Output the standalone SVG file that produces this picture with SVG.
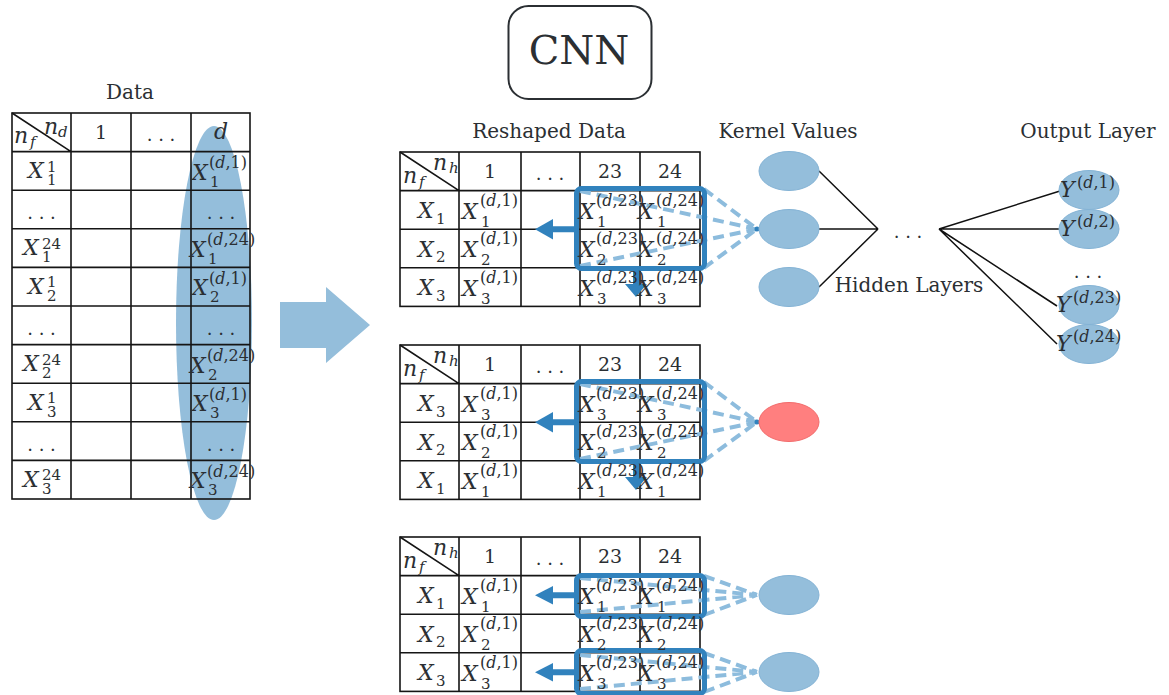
<svg xmlns="http://www.w3.org/2000/svg" width="1169" height="695" viewBox="0 0 1169 695">
<style>
.t{font-family:"DejaVu Serif","Liberation Serif",serif;fill:#2b2f33}
.lb{font-size:20px}
.hd{font-size:19px;text-anchor:middle}
.dots{font-size:18px;text-anchor:middle}
.mi{font-style:italic;font-size:22px}
.sp{font-style:normal;font-size:16px}
.sb{font-style:normal;font-size:15px}
.it{font-style:italic}
.g{fill:none;stroke:#151515;stroke-width:1.6}
.box{fill:none;stroke:#3182bd;stroke-width:5}
.arr{fill:#3182bd}
.shaft{stroke:#3182bd;stroke-width:6}
.dash{stroke:#8dbcdd;stroke-width:4;stroke-dasharray:11 6;fill:none}
.kv{fill:#94bedb;stroke:#84b3d5;stroke-width:1}
.red{fill:#ff7f7f;stroke:#f26b6b;stroke-width:1}
.conn{stroke:#111;stroke-width:1.5;fill:none}
.dot{fill:#3182bd}
</style>
<rect width="1169" height="695" fill="#fff"/>

<!-- CNN title -->
<g id="cnn">
<rect x="508.5" y="6" width="143" height="93" rx="20" fill="#fff" stroke="#2b2f33" stroke-width="2"/>
<text class="t" x="579" y="64" font-size="40" text-anchor="middle">CNN</text>
</g>

<!-- Data table -->
<g id="data-table">
<text class="t lb" x="130" y="99" text-anchor="middle">Data</text>
<ellipse cx="214" cy="323" rx="38" ry="197" fill="#94bedb"/>
<rect class="g" x="12" y="113" width="238" height="386"/>
<path class="g" d="M71 113V499M131 113V499M191 113V499M12 151.6H250M12 190.2H250M12 228.8H250M12 267.4H250M12 306H250M12 344.6H250M12 383.2H250M12 421.8H250M12 460.4H250M12 113L71 151.6"/>
<text class="t mi" x="44" y="134">n<tspan x="58" y="137" font-size="15">d</tspan></text>
<text class="t mi" x="14" y="143">n<tspan x="30" y="147" font-size="15">f</tspan></text>
<text class="t hd" x="101" y="139">1</text>
<text class="t dots" x="161" y="141">. . .</text>
<text class="t mi" x="221" y="139" text-anchor="middle">d</text>

<text class="t mi" x="28" y="178.1">X<tspan class="sb" x="47" y="171.6">1</tspan><tspan class="sb" x="47" y="185.1">1</tspan></text>
<text class="t dots" x="41.5" y="219">. . .</text>
<text class="t mi" x="23" y="255.3">X<tspan class="sb" x="42" y="248.8">24</tspan><tspan class="sb" x="42" y="262.3">1</tspan></text>
<text class="t mi" x="28" y="293.9">X<tspan class="sb" x="47" y="287.4">1</tspan><tspan class="sb" x="47" y="300.9">2</tspan></text>
<text class="t dots" x="41.5" y="335">. . .</text>
<text class="t mi" x="23" y="371.1">X<tspan class="sb" x="42" y="364.6">24</tspan><tspan class="sb" x="42" y="378.1">2</tspan></text>
<text class="t mi" x="28" y="409.7">X<tspan class="sb" x="47" y="403.2">1</tspan><tspan class="sb" x="47" y="416.7">3</tspan></text>
<text class="t dots" x="41.5" y="451">. . .</text>
<text class="t mi" x="23" y="486.9">X<tspan class="sb" x="42" y="480.4">24</tspan><tspan class="sb" x="42" y="493.9">3</tspan></text>

<text class="t mi" x="192" y="179.6">X<tspan class="sp" x="209" y="168.1">(<tspan class="it">d</tspan>,1)</tspan><tspan class="sb" x="210" y="186.6">1</tspan></text>
<text class="t dots" x="221" y="219">. . .</text>
<text class="t mi" x="190" y="256.8">X<tspan class="sp" x="207" y="245.3">(<tspan class="it">d</tspan>,24)</tspan><tspan class="sb" x="208" y="263.8">1</tspan></text>
<text class="t mi" x="192" y="295.4">X<tspan class="sp" x="209" y="283.9">(<tspan class="it">d</tspan>,1)</tspan><tspan class="sb" x="210" y="302.4">2</tspan></text>
<text class="t dots" x="221" y="335">. . .</text>
<text class="t mi" x="190" y="372.6">X<tspan class="sp" x="207" y="361.1">(<tspan class="it">d</tspan>,24)</tspan><tspan class="sb" x="208" y="379.6">2</tspan></text>
<text class="t mi" x="192" y="411.2">X<tspan class="sp" x="209" y="399.7">(<tspan class="it">d</tspan>,1)</tspan><tspan class="sb" x="210" y="418.2">3</tspan></text>
<text class="t dots" x="221" y="451">. . .</text>
<text class="t mi" x="190" y="488.4">X<tspan class="sp" x="207" y="476.9">(<tspan class="it">d</tspan>,24)</tspan><tspan class="sb" x="208" y="495.4">3</tspan></text>
</g>

<!-- big transform arrow -->
<g id="big-arrow">
<polygon points="280,302 326,302 326,287 370,325 326,363 326,348 280,348" fill="#94bedb"/>
</g>

<text class="t lb" x="549" y="138" text-anchor="middle">Reshaped Data</text>

<!-- Reshaped table 1 -->
<g id="table-top">
<rect class="g" x="400" y="152" width="300" height="154.4"/>
<path class="g" d="M459 152V306.4M521 152V306.4M580 152V306.4M640 152V306.4M400 190.6H700M400 229.2H700M400 267.8H700M400 152L459 190.6"/>
<g>
<path class="dash" d="M580 191L757 229M580 266L757 229M704 189L757 229M704 268L757 229"/>
<rect class="box" x="576.5" y="188.5" width="128" height="80" rx="5"/>
<path class="shaft" d="M577 229.2H553M636 270V284"/>
<polygon class="arr" points="553,219 535,229.2 553,239.4"/>
<polygon class="arr" points="625,284 647,284 636,297"/>
<circle class="dot" cx="757" cy="229" r="2.5"/>
</g>
<text class="t mi" x="433" y="170">n<tspan x="449" y="173" font-size="15">h</tspan></text>
<text class="t mi" x="403" y="183">n<tspan x="419" y="187" font-size="15">f</tspan></text>
<text class="t hd" x="490" y="178">1</text>
<text class="t dots" x="550" y="180">. . .</text>
<text class="t hd" x="610" y="178">23</text>
<text class="t hd" x="670" y="178">24</text>
<text class="t mi" x="418" y="218">X<tspan class="sb" x="436" y="223.6">1</tspan></text>
<text class="t mi" x="418" y="256.6">X<tspan class="sb" x="436" y="262.2">2</tspan></text>
<text class="t mi" x="418" y="295.2">X<tspan class="sb" x="436" y="300.8">3</tspan></text>
<text class="t mi" x="462" y="218.6">X<tspan class="sp" x="480" y="205.6">(<tspan class="it">d</tspan>,1)</tspan><tspan class="sb" x="481" y="226.6">1</tspan></text>
<text class="t mi" x="462" y="257.2">X<tspan class="sp" x="480" y="244.2">(<tspan class="it">d</tspan>,1)</tspan><tspan class="sb" x="481" y="265.2">2</tspan></text>
<text class="t mi" x="462" y="295.8">X<tspan class="sp" x="480" y="282.8">(<tspan class="it">d</tspan>,1)</tspan><tspan class="sb" x="481" y="303.8">3</tspan></text>
<text class="t mi" x="579" y="218.6">X<tspan class="sp" x="596" y="205.6">(<tspan class="it">d</tspan>,23)</tspan><tspan class="sb" x="597" y="226.6">1</tspan></text>
<text class="t mi" x="579" y="257.2">X<tspan class="sp" x="596" y="244.2">(<tspan class="it">d</tspan>,23)</tspan><tspan class="sb" x="597" y="265.2">2</tspan></text>
<text class="t mi" x="579" y="295.8">X<tspan class="sp" x="596" y="282.8">(<tspan class="it">d</tspan>,23)</tspan><tspan class="sb" x="597" y="303.8">3</tspan></text>
<text class="t mi" x="638" y="218.6">X<tspan class="sp" x="656" y="205.6">(<tspan class="it">d</tspan>,24)</tspan><tspan class="sb" x="657" y="226.6">1</tspan></text>
<text class="t mi" x="638" y="257.2">X<tspan class="sp" x="656" y="244.2">(<tspan class="it">d</tspan>,24)</tspan><tspan class="sb" x="657" y="265.2">2</tspan></text>
<text class="t mi" x="638" y="295.8">X<tspan class="sp" x="656" y="282.8">(<tspan class="it">d</tspan>,24)</tspan><tspan class="sb" x="657" y="303.8">3</tspan></text>
</g>

<!-- Reshaped table 2 -->
<g id="table-mid">
<rect class="g" x="400" y="345" width="300" height="154.4"/>
<path class="g" d="M459 345V499.4M521 345V499.4M580 345V499.4M640 345V499.4M400 383.6H700M400 422.2H700M400 460.8H700M400 345L459 383.6"/>
<g>
<path class="dash" d="M580 384L757 422M580 459L757 422M704 382L757 422M704 461L757 422"/>
<rect class="box" x="576.5" y="381.5" width="128" height="80" rx="5"/>
<path class="shaft" d="M577 422.2H553M636 463V477"/>
<polygon class="arr" points="553,412 535,422.2 553,432.4"/>
<polygon class="arr" points="625,477 647,477 636,490"/>
<circle class="dot" cx="757" cy="422" r="2.5"/>
</g>
<text class="t mi" x="433" y="363">n<tspan x="449" y="366" font-size="15">h</tspan></text>
<text class="t mi" x="403" y="376">n<tspan x="419" y="380" font-size="15">f</tspan></text>
<text class="t hd" x="490" y="371">1</text>
<text class="t dots" x="550" y="373">. . .</text>
<text class="t hd" x="610" y="371">23</text>
<text class="t hd" x="670" y="371">24</text>
<text class="t mi" x="418" y="411">X<tspan class="sb" x="436" y="416.6">3</tspan></text>
<text class="t mi" x="418" y="449.6">X<tspan class="sb" x="436" y="455.2">2</tspan></text>
<text class="t mi" x="418" y="488.2">X<tspan class="sb" x="436" y="493.8">1</tspan></text>
<text class="t mi" x="462" y="411.6">X<tspan class="sp" x="480" y="398.6">(<tspan class="it">d</tspan>,1)</tspan><tspan class="sb" x="481" y="419.6">3</tspan></text>
<text class="t mi" x="462" y="450.2">X<tspan class="sp" x="480" y="437.2">(<tspan class="it">d</tspan>,1)</tspan><tspan class="sb" x="481" y="458.2">2</tspan></text>
<text class="t mi" x="462" y="488.8">X<tspan class="sp" x="480" y="475.8">(<tspan class="it">d</tspan>,1)</tspan><tspan class="sb" x="481" y="496.8">1</tspan></text>
<text class="t mi" x="579" y="411.6">X<tspan class="sp" x="596" y="398.6">(<tspan class="it">d</tspan>,23)</tspan><tspan class="sb" x="597" y="419.6">3</tspan></text>
<text class="t mi" x="579" y="450.2">X<tspan class="sp" x="596" y="437.2">(<tspan class="it">d</tspan>,23)</tspan><tspan class="sb" x="597" y="458.2">2</tspan></text>
<text class="t mi" x="579" y="488.8">X<tspan class="sp" x="596" y="475.8">(<tspan class="it">d</tspan>,23)</tspan><tspan class="sb" x="597" y="496.8">1</tspan></text>
<text class="t mi" x="638" y="411.6">X<tspan class="sp" x="656" y="398.6">(<tspan class="it">d</tspan>,24)</tspan><tspan class="sb" x="657" y="419.6">3</tspan></text>
<text class="t mi" x="638" y="450.2">X<tspan class="sp" x="656" y="437.2">(<tspan class="it">d</tspan>,24)</tspan><tspan class="sb" x="657" y="458.2">2</tspan></text>
<text class="t mi" x="638" y="488.8">X<tspan class="sp" x="656" y="475.8">(<tspan class="it">d</tspan>,24)</tspan><tspan class="sb" x="657" y="496.8">1</tspan></text>
</g>

<!-- Reshaped table 3 -->
<g id="table-bot">
<rect class="g" x="400" y="537" width="300" height="154.4"/>
<path class="g" d="M459 537V691.4M521 537V691.4M580 537V691.4M640 537V691.4M400 575.6H700M400 614.2H700M400 652.8H700M400 537L459 575.6"/>
<g>
<path class="dash" d="M580 578L757 595M580 612L757 595M704 576L757 595M704 615L757 595"/>
<path class="dash" d="M580 655L757 672M580 689L757 672M704 653L757 672M704 692L757 672"/>
<rect class="box" x="576.5" y="575.5" width="128" height="41" rx="5"/>
<rect class="box" x="576.5" y="650.5" width="128" height="43" rx="5"/>
<path class="shaft" d="M577 595.2H553M577 672.2H553"/>
<polygon class="arr" points="553,586 535,595.2 553,604.4"/>
<polygon class="arr" points="553,663 535,672.2 553,681.4"/>
</g>
<text class="t mi" x="433" y="555">n<tspan x="449" y="558" font-size="15">h</tspan></text>
<text class="t mi" x="403" y="568">n<tspan x="419" y="572" font-size="15">f</tspan></text>
<text class="t hd" x="490" y="563">1</text>
<text class="t dots" x="550" y="565">. . .</text>
<text class="t hd" x="610" y="563">23</text>
<text class="t hd" x="670" y="563">24</text>
<text class="t mi" x="418" y="603">X<tspan class="sb" x="436" y="608.6">1</tspan></text>
<text class="t mi" x="418" y="641.6">X<tspan class="sb" x="436" y="647.2">2</tspan></text>
<text class="t mi" x="418" y="680.2">X<tspan class="sb" x="436" y="685.8">3</tspan></text>
<text class="t mi" x="462" y="603.6">X<tspan class="sp" x="480" y="590.6">(<tspan class="it">d</tspan>,1)</tspan><tspan class="sb" x="481" y="611.6">1</tspan></text>
<text class="t mi" x="462" y="642.2">X<tspan class="sp" x="480" y="629.2">(<tspan class="it">d</tspan>,1)</tspan><tspan class="sb" x="481" y="650.2">2</tspan></text>
<text class="t mi" x="462" y="680.8">X<tspan class="sp" x="480" y="667.8">(<tspan class="it">d</tspan>,1)</tspan><tspan class="sb" x="481" y="688.8">3</tspan></text>
<text class="t mi" x="579" y="603.6">X<tspan class="sp" x="596" y="590.6">(<tspan class="it">d</tspan>,23)</tspan><tspan class="sb" x="597" y="611.6">1</tspan></text>
<text class="t mi" x="579" y="642.2">X<tspan class="sp" x="596" y="629.2">(<tspan class="it">d</tspan>,23)</tspan><tspan class="sb" x="597" y="650.2">2</tspan></text>
<text class="t mi" x="579" y="680.8">X<tspan class="sp" x="596" y="667.8">(<tspan class="it">d</tspan>,23)</tspan><tspan class="sb" x="597" y="688.8">3</tspan></text>
<text class="t mi" x="638" y="603.6">X<tspan class="sp" x="656" y="590.6">(<tspan class="it">d</tspan>,24)</tspan><tspan class="sb" x="657" y="611.6">1</tspan></text>
<text class="t mi" x="638" y="642.2">X<tspan class="sp" x="656" y="629.2">(<tspan class="it">d</tspan>,24)</tspan><tspan class="sb" x="657" y="650.2">2</tspan></text>
<text class="t mi" x="638" y="680.8">X<tspan class="sp" x="656" y="667.8">(<tspan class="it">d</tspan>,24)</tspan><tspan class="sb" x="657" y="688.8">3</tspan></text>
</g>

<!-- connectors -->
<g id="connectors">
<path class="conn" d="M819 171L878 229M819 229H878M819 287L878 229"/>
<path class="conn" d="M939 229L1060 191M939 229H1060M939 229L1057 306M939 229L1057 344"/>
</g>

<!-- kernel values -->
<g id="kernel-values">
<text class="t lb" x="788" y="138" text-anchor="middle">Kernel Values</text>
<ellipse class="kv" cx="789" cy="171" rx="30" ry="19.5"/>
<ellipse class="kv" cx="789" cy="229" rx="30" ry="19.5"/>
<ellipse class="kv" cx="789" cy="287" rx="30" ry="19.5"/>
</g>
<g id="kernel-red"><ellipse class="red" cx="789" cy="422" rx="30" ry="19.5"/></g>
<g id="kernel-b1"><ellipse class="kv" cx="789" cy="595" rx="30" ry="19.5"/></g>
<g id="kernel-b2"><ellipse class="kv" cx="789" cy="672" rx="30" ry="19.5"/></g>

<!-- hidden layers -->
<g id="hidden-layers">
<text class="t dots" x="908" y="238">. . .</text>
<text class="t lb" x="909" y="292" text-anchor="middle">Hidden Layers</text>
</g>

<!-- output layer -->
<g id="output-layer">
<text class="t lb" x="1088" y="138" text-anchor="middle">Output Layer</text>
<ellipse class="kv" cx="1089" cy="190" rx="30" ry="19.5"/>
<ellipse class="kv" cx="1089" cy="229" rx="30" ry="19.5"/>
<ellipse class="kv" cx="1089" cy="305" rx="30" ry="19.5"/>
<ellipse class="kv" cx="1089" cy="344" rx="30" ry="19.5"/>
<text class="t mi" x="1060" y="197">Y<tspan class="sp" x="1077" y="188">(<tspan class="it">d</tspan>,1)</tspan></text>
<text class="t mi" x="1060" y="236">Y<tspan class="sp" x="1077" y="227">(<tspan class="it">d</tspan>,2)</tspan></text>
<text class="t dots" x="1088" y="278">. . .</text>
<text class="t mi" x="1056" y="312">Y<tspan class="sp" x="1073" y="303">(<tspan class="it">d</tspan>,23)</tspan></text>
<text class="t mi" x="1056" y="351">Y<tspan class="sp" x="1073" y="342">(<tspan class="it">d</tspan>,24)</tspan></text>
</g>
</svg>
